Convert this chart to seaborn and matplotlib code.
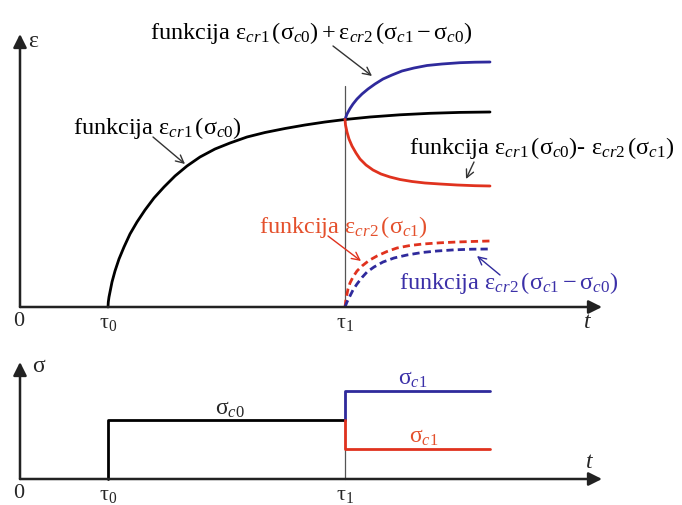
import pandas as pd
import matplotlib
matplotlib.use("Agg")
import matplotlib.pyplot as plt
import seaborn as sns

# time axis: tau_0 and tau_1 (arbitrary units)
tau0 = 0.88
tau1 = 3.25

# creep strain curves
t_black = [0.88, 0.883, 0.89, 0.90, 0.92, 0.95, 0.99, 1.04, 1.10, 1.17, 1.25, 1.34, 1.44, 1.55,
           1.67, 1.80, 1.95, 2.10, 2.27, 2.45, 2.65, 2.85, 3.05, 3.25, 3.50, 3.80, 4.10, 4.40, 4.70]
e_black = [0.00, 0.05, 0.10, 0.15, 0.25, 0.36, 0.48, 0.60, 0.73, 0.85, 0.97, 1.09, 1.20, 1.31,
           1.41, 1.50, 1.58, 1.64, 1.70, 1.745, 1.785, 1.82, 1.85, 1.875, 1.90, 1.922, 1.937, 1.946, 1.95]

t_blue = [3.25, 3.27, 3.30, 3.33, 3.37, 3.42, 3.48, 3.55, 3.63, 3.72, 3.82, 3.94, 4.07, 4.22, 4.40, 4.55, 4.70]
e_blue = [1.875, 1.93, 1.985, 2.03, 2.08, 2.13, 2.18, 2.23, 2.28, 2.32, 2.36, 2.39, 2.415, 2.43, 2.443, 2.448, 2.45]

t_red = [3.25, 3.255, 3.27, 3.29, 3.32, 3.36, 3.40, 3.46, 3.53, 3.61, 3.70, 3.80, 3.92, 4.05, 4.20, 4.37, 4.55, 4.70]
e_red = [1.875, 1.82, 1.75, 1.68, 1.61, 1.54, 1.48, 1.42, 1.37, 1.33, 1.30, 1.275, 1.255, 1.24, 1.23, 1.22, 1.213, 1.21]

t_red_d = [3.25, 3.26, 3.28, 3.30, 3.33, 3.37, 3.42, 3.49, 3.57, 3.67, 3.77, 3.90, 4.03, 4.20, 4.37, 4.55, 4.70]
e_red_d = [0.00, 0.08, 0.18, 0.24, 0.30, 0.36, 0.41, 0.465, 0.51, 0.555, 0.59, 0.615, 0.63, 0.642, 0.65, 0.656, 0.66]

t_blue_d = [3.25, 3.27, 3.30, 3.33, 3.37, 3.42, 3.47, 3.54, 3.63, 3.74, 3.87, 4.02, 4.17, 4.35, 4.52, 4.70]
e_blue_d = [0.00, 0.05, 0.11, 0.17, 0.23, 0.295, 0.35, 0.40, 0.45, 0.49, 0.52, 0.545, 0.56, 0.572, 0.578, 0.58]

# stress history
t_s0 = [0.88, 0.88, 3.25]
s_s0 = [0.00, 0.59, 0.59]
t_s1 = [3.25, 3.25, 4.70]
s_up = [0.59, 0.88, 0.88]
s_down = [0.59, 0.30, 0.30]

BLUE = "#2f2a9c"
RED = "#e0321e"
BLUE_TXT = "#3b30a8"
RED_TXT = "#e4502c"

sns.set_style("white")
plt.rcParams["font.family"] = ["Liberation Serif", "DejaVu Serif"]
plt.rcParams["mathtext.fontset"] = "custom"
plt.rcParams["mathtext.rm"] = "Liberation Serif"
plt.rcParams["mathtext.it"] = "Liberation Serif:italic"
plt.rcParams["mathtext.bf"] = "Liberation Serif:bold"

fig = plt.figure(figsize=(6.82, 5.06), dpi=100)
ax1 = fig.add_axes([0, 1 - 345 / 506, 1, 345 / 506])
ax2 = fig.add_axes([0, 0, 1, 161 / 506])

for ax in (ax1, ax2):
    ax.set_xlim(-0.2, 6.62)
    ax.axis("off")
ax1.set_ylim(-0.37, 3.08)
ax2.set_ylim(-0.26, 1.35)


def curve(ax, t, v, color, dashed=False):
    df = pd.DataFrame({"t": t, "v": v})
    ln = sns.lineplot(data=df, x="t", y="v", ax=ax, color=color, lw=2.0,
                      sort=False, estimator=None)
    if dashed:
        ln.lines[-1].set_dashes((2.6, 1.5))


def axis_arrow(ax, x0, y0, x1, y1):
    ax.annotate("", xy=(x1, y1), xytext=(x0, y0),
                arrowprops=dict(arrowstyle="-|>", lw=1.8, color="#222222",
                                mutation_scale=20, shrinkA=0, shrinkB=0))


def pointer(ax, x0, y0, x1, y1, color="#333333"):
    ax.annotate("", xy=(x1, y1), xytext=(x0, y0),
                arrowprops=dict(arrowstyle="->", lw=1.0, color=color,
                                mutation_scale=14, shrinkA=0, shrinkB=0))


# ---- top panel: strains ----
ax1.plot([tau1, tau1], [0, 2.21], color="#555555", lw=0.9)
axis_arrow(ax1, 0, 0, 5.82, 0)
axis_arrow(ax1, 0, 0, 0, 2.73)

curve(ax1, t_black, e_black, "black")
curve(ax1, t_blue, e_blue, BLUE)
curve(ax1, t_red, e_red, RED)
curve(ax1, t_red_d, e_red_d, RED, dashed=True)
curve(ax1, t_blue_d, e_blue_d, BLUE, dashed=True)

fs = 17.5
ax1.text(1.30, 2.75, r"funkcija $\mathrm{ε}_{cr1}\,(\mathrm{σ}_{c0})+\mathrm{ε}_{cr2}\,(\mathrm{σ}_{c1}-\mathrm{σ}_{c0})$",
         fontsize=fs, ha="left", va="center", color="black")
ax1.text(0.53, 1.80, r"funkcija $\mathrm{ε}_{cr1}\,(\mathrm{σ}_{c0})$",
         fontsize=fs, ha="left", va="center", color="black")
ax1.text(3.89, 1.60, r"funkcija $\mathrm{ε}_{cr1}\,(\mathrm{σ}_{c0})$- $\mathrm{ε}_{cr2}\,(\mathrm{σ}_{c1})$",
         fontsize=fs, ha="left", va="center", color="black")
ax1.text(2.39, 0.81, r"funkcija $\mathrm{ε}_{cr2}\,(\mathrm{σ}_{c1})$",
         fontsize=fs, ha="left", va="center", color=RED_TXT)
ax1.text(3.79, 0.25, r"funkcija $\mathrm{ε}_{cr2}\,(\mathrm{σ}_{c1}-\mathrm{σ}_{c0})$",
         fontsize=fs, ha="left", va="center", color=BLUE_TXT)

pointer(ax1, 3.13, 2.61, 3.52, 2.31)
pointer(ax1, 1.33, 1.70, 1.65, 1.43)
pointer(ax1, 4.54, 1.45, 4.46, 1.28)
pointer(ax1, 3.08, 0.71, 3.41, 0.46, RED)
pointer(ax1, 4.80, 0.32, 4.57, 0.51, BLUE)

ax1.text(0.08, 2.66, "ε", fontsize=17, ha="left", va="center")
ax1.text(-0.01, -0.14, "0", fontsize=16, ha="center", va="center")
ax1.text(tau0, -0.16, r"$\mathrm{τ}_0$", fontsize=16, ha="center", va="center")
ax1.text(tau1, -0.16, r"$\mathrm{τ}_1$", fontsize=16, ha="center", va="center")
ax1.text(5.67, -0.15, "t", fontsize=17, style="italic", ha="center", va="center")

# ---- bottom panel: stresses ----
ax2.plot([tau1, tau1], [0, 0.88], color="#555555", lw=0.9)
axis_arrow(ax2, 0, 0, 5.82, 0)
axis_arrow(ax2, 0, 0, 0, 1.17)

curve(ax2, t_s0, s_s0, "black")
curve(ax2, t_s1, s_up, BLUE)
curve(ax2, t_s1, s_down, RED)

ax2.text(0.12, 1.13, "σ", fontsize=17, ha="left", va="center")
ax2.text(2.10, 0.70, r"$\mathrm{σ}_{c0}$", fontsize=17, ha="center", va="center")
ax2.text(3.93, 1.00, r"$\mathrm{σ}_{c1}$", fontsize=17, ha="center", va="center", color=BLUE_TXT)
ax2.text(4.04, 0.42, r"$\mathrm{σ}_{c1}$", fontsize=17, ha="center", va="center", color=RED_TXT)
ax2.text(5.69, 0.17, "t", fontsize=17, style="italic", ha="center", va="center")
ax2.text(-0.01, -0.14, "0", fontsize=16, ha="center", va="center")
ax2.text(tau0, -0.16, r"$\mathrm{τ}_0$", fontsize=16, ha="center", va="center")
ax2.text(tau1, -0.16, r"$\mathrm{τ}_1$", fontsize=16, ha="center", va="center")

fig.savefig("out.png", dpi=100)
